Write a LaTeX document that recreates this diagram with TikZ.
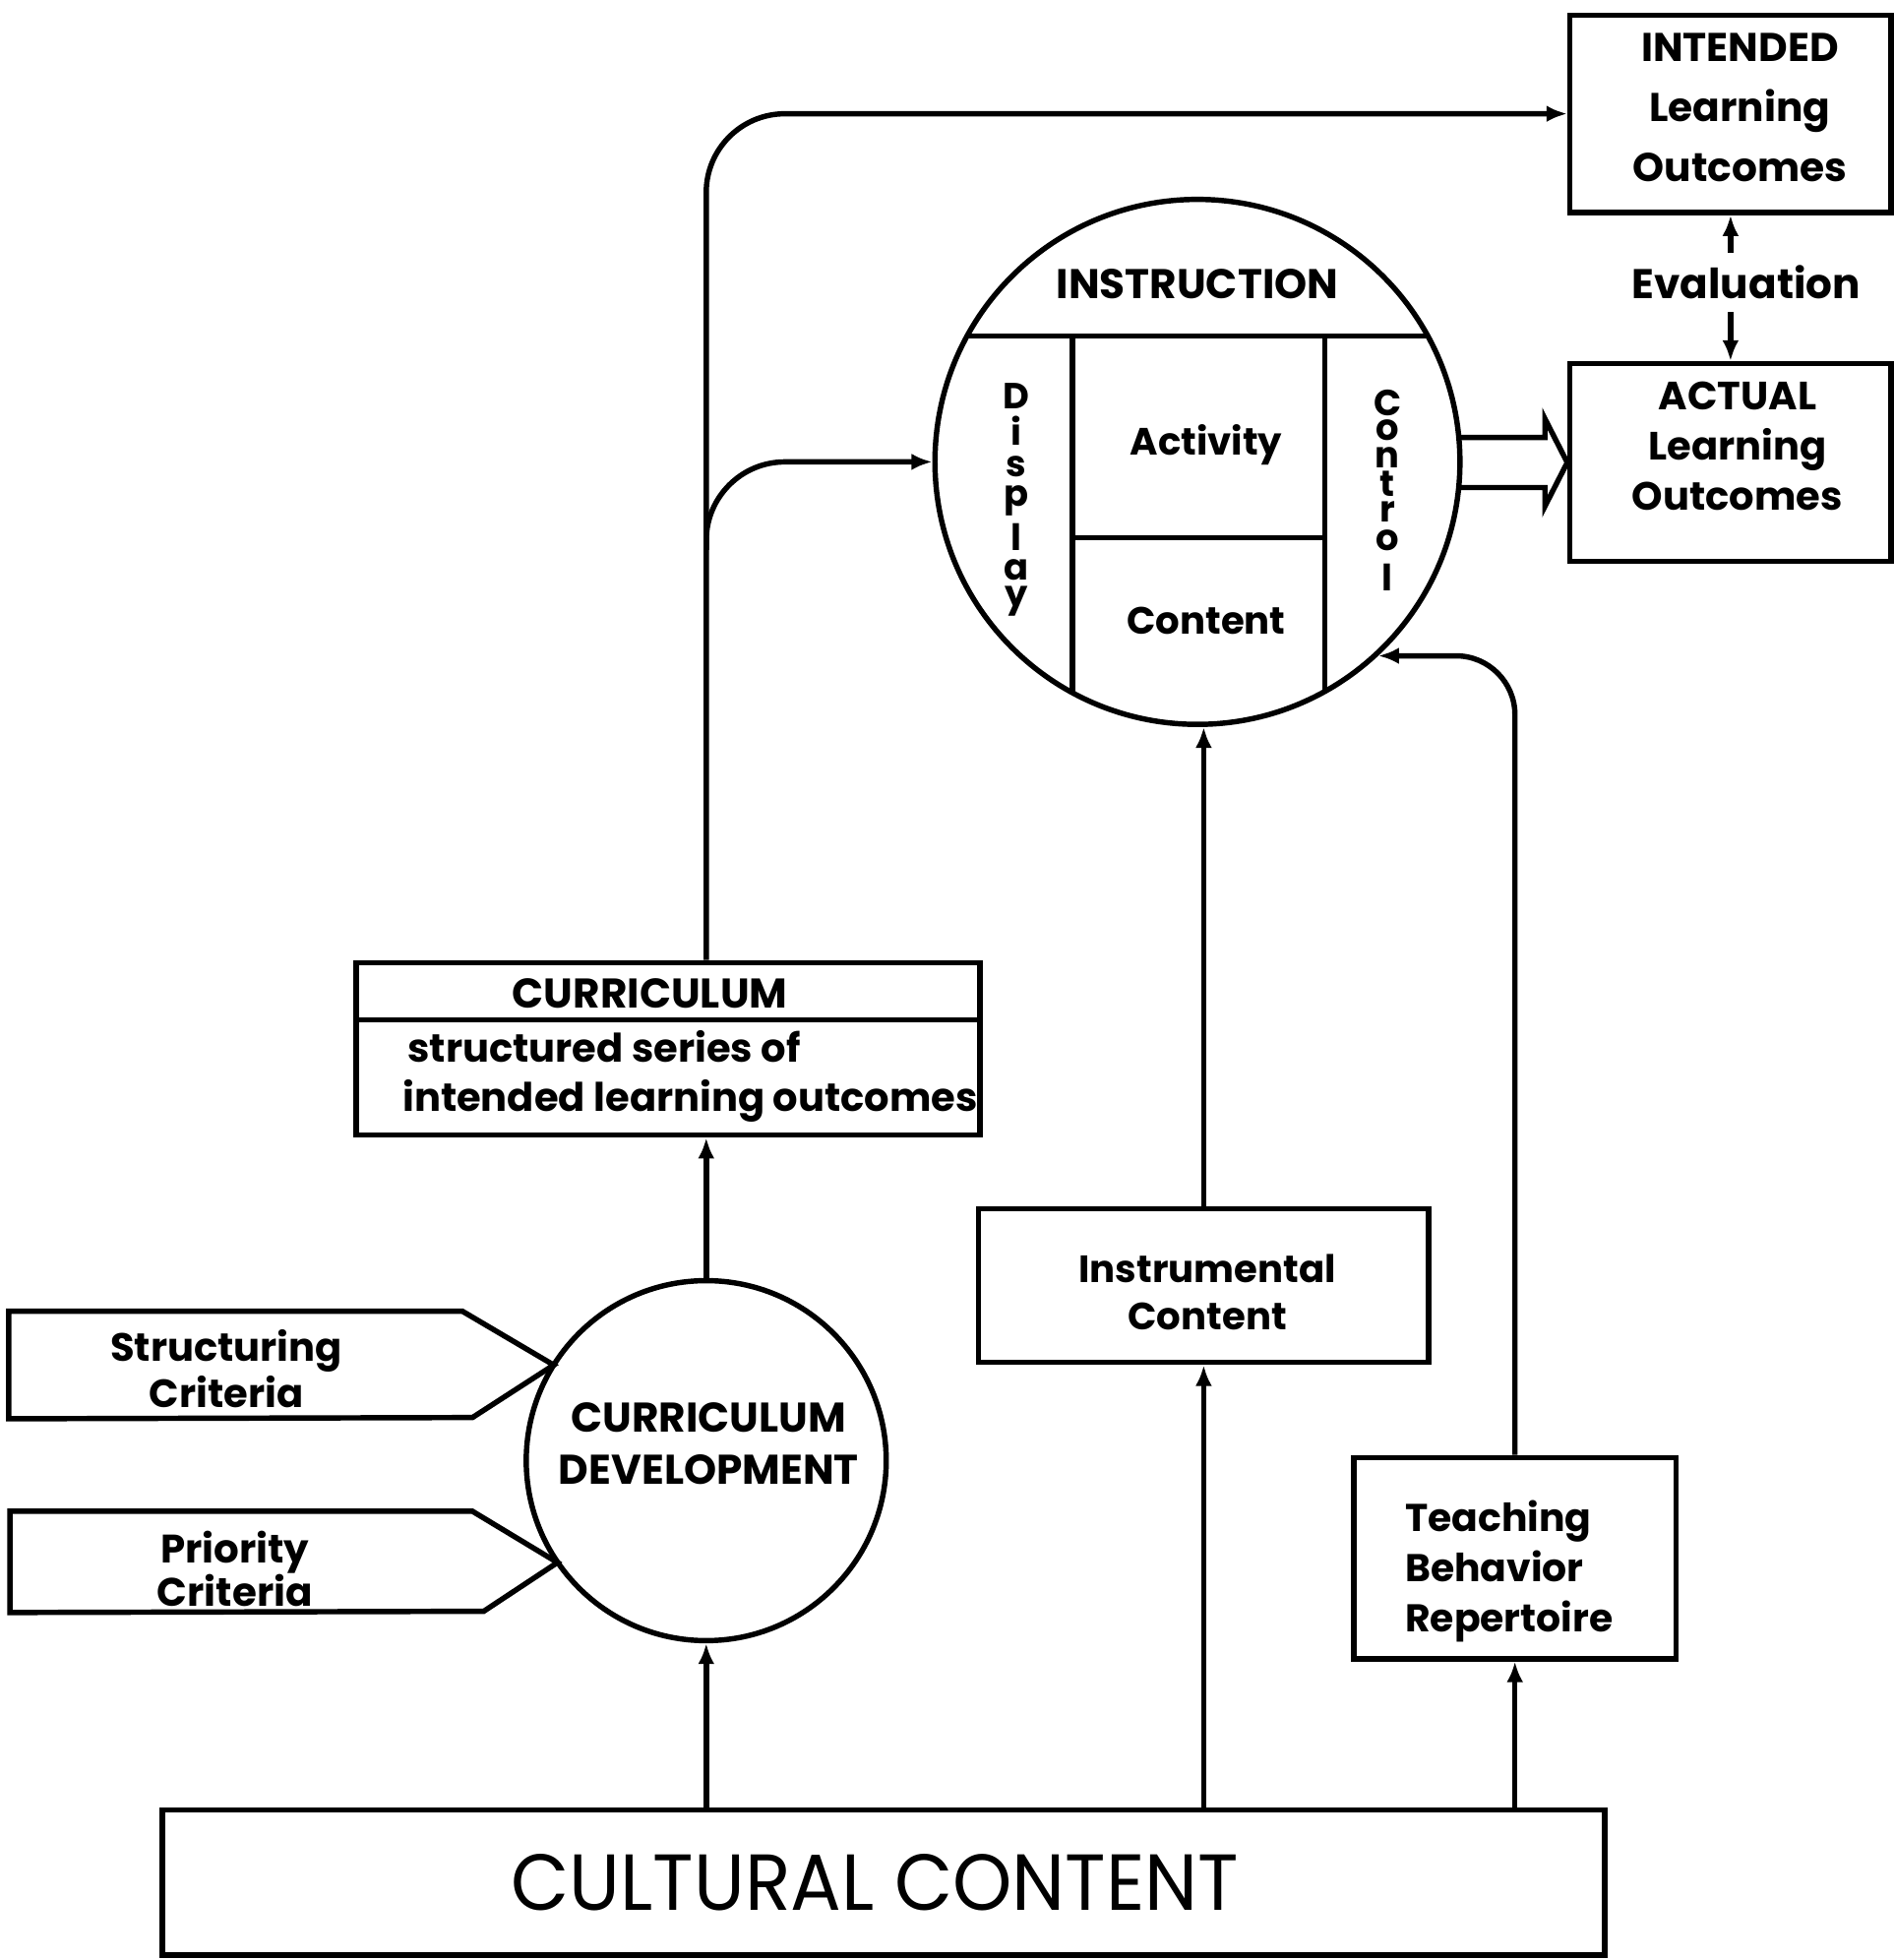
\documentclass[tikz,border=0pt]{standalone}
\usepackage{fontspec}
\setmainfont{Poppins}
\usetikzlibrary{arrows.meta,calc}
\newcommand\pxu{0.012706cm}
\begin{document}
\begin{tikzpicture}[x=0.012706cm,y=-0.012706cm, line width=1.55pt,
  >={Latex[length=6pt,width=4.8pt]},
  box/.style={draw, rectangle, inner sep=0pt},
  lbl/.style={font=\bfseries\fontsize{12}{15}\selectfont, align=center, inner sep=0pt},
  stack/.style 2 args={font=\bfseries\fontsize{#1}{#2}\selectfont, align=center, inner sep=0pt},
  vl/.style={font=\bfseries\fontsize{10.5}{10.5}\selectfont, inner sep=0pt},
]
\useasboundingbox (0,0) rectangle (1515,1568);

% boxes
\node[box, minimum width=257*\pxu, minimum height=158*\pxu] (intd) at (1384.5,91) {};
\node[box, minimum width=257*\pxu, minimum height=158*\pxu] (act) at (1384.5,370) {};
\node[box, minimum width=499*\pxu, minimum height=138*\pxu] (curr) at (534.5,839) {};
\node[box, minimum width=360*\pxu, minimum height=123*\pxu] (instc) at (963,1028.5) {};
\node[box, minimum width=258*\pxu, minimum height=161*\pxu] (tbr) at (1212,1246.5) {};
\node[box, minimum width=1154*\pxu, minimum height=116*\pxu] (cult) at (707,1506) {};

% circles
\node[draw, circle, minimum size=420*\pxu, inner sep=0pt] (instr) at (958,369.5) {};
\node[draw, circle, minimum size=288*\pxu, inner sep=0pt] (cd) at (565,1168.5) {};

% curriculum divider
\draw (curr.west |- 0,816) -- (curr.east |- 0,816);

% instruction internals
\draw (773.6,269) -- (1142.4,269);
\draw (858,269) -- (858,554.2);
\draw (1060,269) -- (1060,553.1);
\draw (858,430) -- (1060,430);

% pentagons
\draw (7,1049) -- (370,1049) -- (443,1092) -- (378,1134) -- (7,1135) -- cycle;
\draw (8,1209) -- (378,1209) -- (446,1250) -- (387,1289) -- (8,1290) -- cycle;

% texts
\node[stack={11.6}{17.4pt}] at (1392,86) {INTENDED\\Learning\\Outcomes};
\node[stack={11.4}{14.6pt}] at (1390,357) {ACTUAL\\Learning\\Outcomes};
\node[lbl, inner sep=3pt] (eval) at (1397,226) {Evaluation};
\node[lbl] at (958,227) {INSTRUCTION};
\node[stack={11}{13pt}] at (965,356) {Activity};
\node[stack={11}{13pt}] at (965,497) {Content};
% Display (vertical)
\node[vl] at (813,317) {D};
\node[vl] at (813,344.5) {i};
\node[vl] at (813,373) {s};
\node[vl] at (813,400.5) {p};
\node[vl] at (813,430) {l};
\node[vl] at (813,456) {a};
\node[vl] at (813,481) {y};
% Control (vertical)
\node[vl] at (1110,322) {C};
\node[vl] at (1110,344) {o};
\node[vl] at (1110,366) {n};
\node[vl] at (1110,387) {t};
\node[vl] at (1110,409) {r};
\node[vl] at (1110,432) {o};
\node[vl] at (1110,462) {l};
\node[lbl] at (520,795) {CURRICULUM};
\node[stack={11.4}{14.1pt}, align=left, anchor=west] at (320,861) {\hspace{1.5pt}structured series of\\intended learning outcomes};
\node[stack={12}{15.2pt}] at (567,1155) {CURRICULUM\\DEVELOPMENT};
\node[stack={11.4}{11.6pt}] at (181,1095) {Structuring\\Criteria};
\node[stack={11.5}{12.3pt}] at (188,1255) {Priority\\Criteria};
\node[stack={11}{13.7pt}] at (966,1034) {Instrumental\\Content};
\node[stack={11.2}{14.6pt}, align=left, anchor=west] at (1122,1257) {Teaching\\Behavior\\Repertoire};
\node[font=\fontsize{23}{26}\selectfont, inner sep=0pt] at (700,1506) {\scalebox{0.95}[1]{CULTURAL CONTENT}};

% connectors
\coordinate (br) at (565,440);
\draw[->, rounded corners=0.8cm] (cd.north |- curr.north) |- (intd.west);
\draw[->, rounded corners=0.8cm] (br) |- (instr.west);
\draw[->] (eval.north -| intd.south) -- (intd.south);
\draw[->] (eval.south -| act.north) -- (act.north);
\draw[line join=miter] (1167,350) -- (1236,350) -- (1236,335) -- (act.west) -- (1236,405) -- (1236,390) -- (1167,390);
\draw[->, rounded corners=0.6cm] (tbr.north) |- (instr.-47.6);
\draw[->] (cult.north -| cd.south) -- (cd.south);
\draw[->] (cult.north -| instc.south) -- (instc.south);
\draw[->] (cult.north -| tbr.south) -- (tbr.south);
\draw[->] (instc.north) -- (instc.north |- instr.south);
\draw[->] (cd.north) -- (cd.north |- curr.south);
\end{tikzpicture}
\end{document}
